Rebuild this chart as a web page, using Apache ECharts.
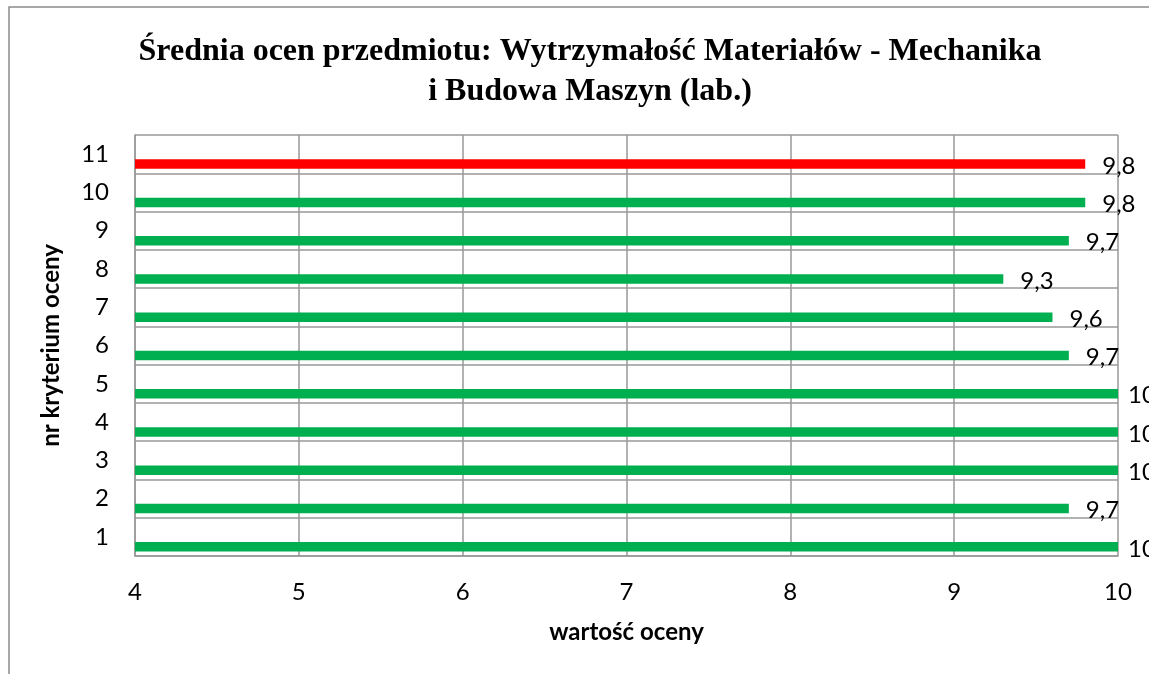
<!DOCTYPE html>
<html>
<head>
<meta charset="utf-8">
<script src="https://cdn.jsdelivr.net/npm/echarts@6/dist/echarts.min.js"></script>
<style>
  html, body { margin: 0; padding: 0; background: #fff; }
  #chart { width: 1149px; height: 674px; }
</style>
</head>
<body>
<div id="chart"></div>
<script>
// kryteria oceny 1..11 (od dołu do góry)
const criteria = ['1', '2', '3', '4', '5', '6', '7', '8', '9', '10', '11']
const scores = [10, 9.7, 10, 10, 10, 9.7, 9.6, 9.3, 9.7, 9.8, 9.8]
const highlighted = '11'
const xTicks = [4, 5, 6, 7, 8, 9, 10]

const GREEN = '#00B050'
const RED = '#FF0000'
const GRID = '#999999'
const xMax = xTicks[xTicks.length - 1]

const chart = echarts.init(document.getElementById('chart'))

const barData = scores.map((v, i) => ({
  value: v,
  itemStyle: { color: criteria[i] === highlighted ? RED : GREEN },
  label: { distance: v >= xMax ? 10 : 17 }
}))

const option = {
  backgroundColor: '#fff',
  animation: false,
  textStyle: { fontFamily: 'Lato' },
  title: {
    text: 'Średnia ocen przedmiotu: Wytrzymałość Materiałów - Mechanika\ni Budowa Maszyn (lab.)',
    left: 585,
    top: 27,
    textAlign: 'center',
    textStyle: {
      fontFamily: 'Liberation Serif',
      fontSize: 32,
      fontWeight: 'bold',
      color: '#000',
      lineHeight: 40,
      align: 'center'
    }
  },
  graphic: [{
    type: 'rect',
    silent: true,
    shape: { x: 9, y: 7, width: 1300, height: 800 },
    style: { fill: 'none', stroke: '#8c8c8c', lineWidth: 1.5 }
  }],
  grid: {
    left: 135,
    right: 31,
    top: 135,
    bottom: 118
  },
  xAxis: {
    type: 'value',
    min: xTicks[0],
    max: xMax,
    interval: 1,
    name: 'wartość oceny',
    nameLocation: 'middle',
    nameGap: 64,
    nameTextStyle: { fontSize: 24, fontWeight: 'bold', color: '#000' },
    axisLine: { show: true, lineStyle: { color: GRID, width: 1.5 } },
    axisTick: { show: false },
    axisLabel: { fontSize: 24, color: '#000', margin: 24 },
    splitLine: {
      show: true,
      showMinLine: true,
      showMaxLine: true,
      lineStyle: { color: GRID, width: 1.5 }
    }
  },
  yAxis: {
    type: 'category',
    data: criteria,
    name: 'nr kryterium oceny',
    nameLocation: 'middle',
    nameGap: 72,
    nameTextStyle: { fontSize: 24, fontWeight: 'bold', color: '#000' },
    axisLine: { show: true, lineStyle: { color: GRID, width: 1.5 } },
    axisTick: { show: false },
    axisLabel: { fontSize: 24, color: '#000', margin: 26 },
    splitLine: { show: true, interval: 0, lineStyle: { color: GRID, width: 1.5 } }
  },
  series: [
    {
      // pusty odstęp, żeby słupek leżał przy dolnej linii pasma
      type: 'bar',
      data: [],
      barWidth: 9.5,
      barGap: '110%',
      silent: true
    },
    {
      type: 'bar',
      data: barData,
      barWidth: 9.5,
      barGap: '110%',
      label: {
        show: true,
        position: 'right',
        offset: [0, 2],
        fontSize: 24,
        color: '#000',
        formatter: p => String(p.value).replace('.', ',')
      }
    }
  ]
}

chart.setOption(option)
</script>
</body>
</html>
